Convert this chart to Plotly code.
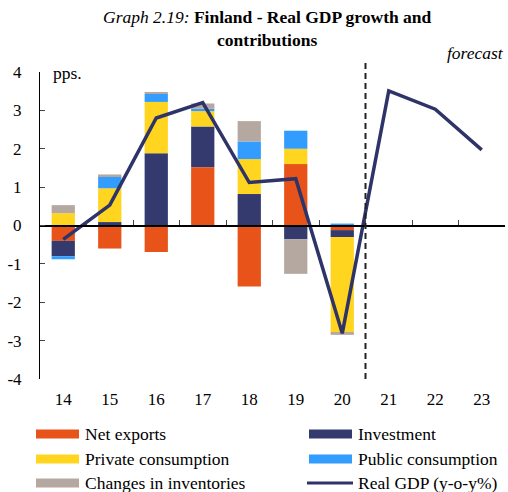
import plotly.graph_objects as go

# Years (20xx) and contributions to real GDP growth, percentage points
years = ["14", "15", "16", "17", "18", "19", "20", "21", "22", "23"]
net_exports = [-0.40, -0.60, -0.69, 1.52, -1.59, 1.60, -0.12, None, None, None]
investment = [-0.40, 0.09, 1.88, 1.06, 0.82, -0.36, -0.18, None, None, None]
private_consumption = [0.32, 0.88, 1.34, 0.40, 0.91, 0.40, -2.50, None, None, None]
public_consumption = [-0.08, 0.31, 0.21, 0.06, 0.46, 0.47, 0.05, None, None, None]
inventories = [0.21, 0.05, 0.05, 0.14, 0.53, -0.90, -0.05, None, None, None]
real_gdp = [-0.36, 0.53, 2.80, 3.20, 1.12, 1.22, -2.81, 3.51, 3.03, 1.97]
y_ticks = [-4, -3, -2, -1, 0, 1, 2, 3, 4]

series = [
    ("Net exports", net_exports, "#E8531A"),
    ("Investment", investment, "#343A6E"),
    ("Private consumption", private_consumption, "#FFD520"),
    ("Public consumption", public_consumption, "#339CFF"),
    ("Changes in inventories", inventories, "#B5A8A0"),
]
gdp_name = "Real GDP (y-o-y%)"
gdp_color = "#2E3468"

FONT = "Liberation Serif"
W, H = 508, 492
L, R, T, B = 40, 505, 72, 379  # plot area in pixels


def px(x):
    return (x - L) / (R - L)


def py(y):
    return (B - y) / (B - T)


fig = go.Figure()
for name, vals, color in series:
    fig.add_trace(go.Bar(x=years, y=vals, name=name, marker_color=color,
                         marker_line_width=0, width=0.5, showlegend=False))
fig.add_trace(go.Scatter(x=years, y=real_gdp, name=gdp_name, mode="lines",
                         line=dict(color=gdp_color, width=3.5), showlegend=False))
# empty trace so the zero-line axis gets drawn
fig.add_trace(go.Scatter(x=[None], y=[None], xaxis="x2", yaxis="y",
                         showlegend=False, hoverinfo="skip"))

n = len(years)
fig.update_layout(
    width=W, height=H,
    margin=dict(l=L, r=W - R, t=T, b=H - B, pad=0),
    paper_bgcolor="white", plot_bgcolor="white",
    barmode="relative", bargap=0.5,
    font=dict(family=FONT, size=17, color="black"),
    xaxis=dict(type="category", range=[-0.5, n - 0.5], showline=False,
               showgrid=False, zeroline=False, ticks="",
               tickfont=dict(size=17), ticklabelstandoff=8),
    xaxis2=dict(overlaying="x", anchor="free", position=0.5, type="linear",
                range=[-0.5, n - 0.5], showgrid=False, zeroline=False,
                showline=True, linecolor="black", linewidth=1.5,
                ticks="inside", ticklen=5, tickcolor="#444",
                tickvals=[i + 0.5 for i in range(n - 1)],
                showticklabels=False),
    yaxis=dict(range=[-4, 4], showgrid=False, zeroline=False,
               showline=True, linecolor="black", linewidth=1,
               tickvals=y_ticks, ticktext=[str(v) for v in y_ticks],
               ticks="inside", ticklen=5, tickcolor="#444",
               tickfont=dict(size=17), ticklabelstandoff=14),
)

shapes = [
    # start of the forecast period
    dict(type="line", xref="x", yref="paper", x0=6.5, x1=6.5, y0=0,
         y1=py(62), line=dict(color="#222", width=2, dash="6px,4px")),
]
annotations = [
    dict(text="<i>Graph 2.19:</i> <b>Finland - Real GDP growth and</b><br><b>contributions</b>",
         xref="paper", yref="paper", x=px(267), y=py(29), xanchor="center",
         yanchor="middle", showarrow=False, font=dict(size=17.5)),
    dict(text="<i>forecast</i>", xref="paper", yref="paper", x=px(506),
         y=py(53), xanchor="right", yanchor="middle", showarrow=False,
         font=dict(size=17.5)),
    dict(text="pps.", xref="paper", yref="paper", x=px(51), y=py(73),
         xanchor="left", yanchor="middle", showarrow=False,
         font=dict(size=17.5)),
]

# Legend: two columns, three rows
rows = [434, 459, 483]
cols = [(36, 79, 83), (309, 352, 356)]
entries = [(name, color, "bar") for name, _, color in series] + [(gdp_name, gdp_color, "line")]
for i, (name, color, kind) in enumerate(entries):
    r, c = divmod(i, 2)
    x0, x1, xt = cols[c]
    yc = rows[r]
    if kind == "bar":
        shapes.append(dict(type="rect", xref="paper", yref="paper",
                           x0=px(x0), x1=px(x1), y0=py(yc + 4.5), y1=py(yc - 4.5),
                           fillcolor=color, line=dict(width=0)))
    else:
        shapes.append(dict(type="line", xref="paper", yref="paper",
                           x0=px(x0 - 2), x1=px(x1 + 1), y0=py(yc), y1=py(yc),
                           line=dict(color=color, width=3)))
    annotations.append(dict(text=name, xref="paper", yref="paper", x=px(xt),
                            y=py(yc), xanchor="left", yanchor="middle",
                            showarrow=False, font=dict(size=17.5)))

fig.update_layout(shapes=shapes, annotations=annotations)
fig.write_html("out.html")
